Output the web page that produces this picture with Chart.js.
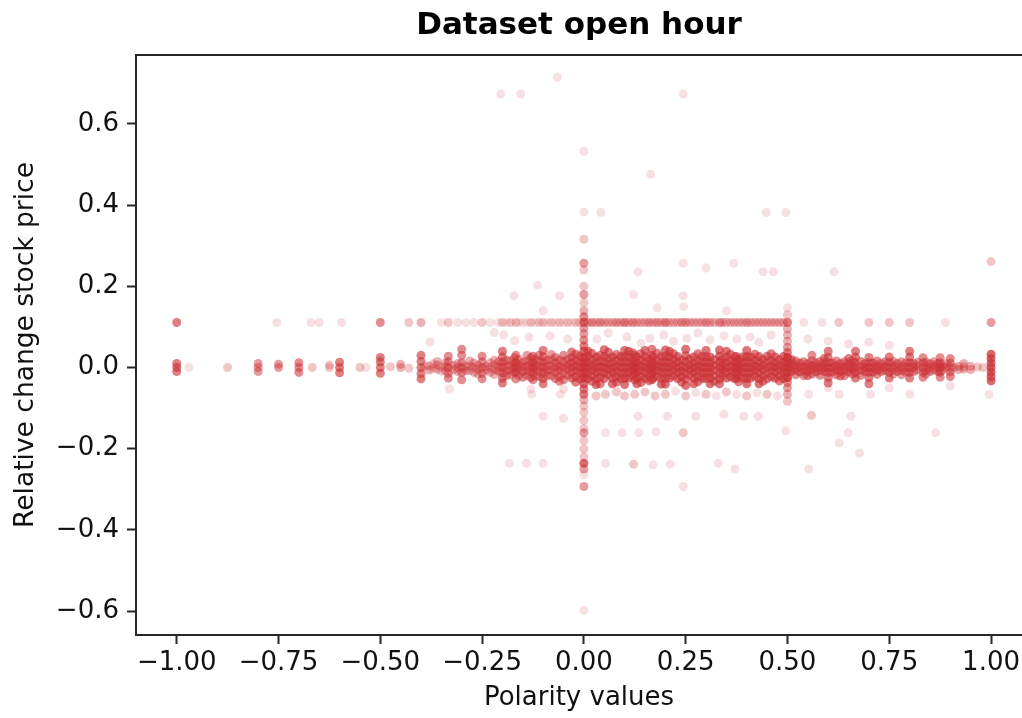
<!DOCTYPE html>
<html>
<head>
<meta charset="utf-8">
<title>Dataset open hour</title>
<script src="https://cdn.jsdelivr.net/npm/chart.js@4.4.1/dist/chart.umd.min.js"></script>
<style>
  html, body { margin: 0; padding: 0; background: #fff; overflow: hidden; width: 1022px; height: 718px; }
  canvas { display: block; }
</style>
</head>
<body>
<canvas id="chart" width="1022" height="718"></canvas>
<script>
// Axis ticks
const xTicks = [-1, -0.75, -0.5, -0.25, 0, 0.25, 0.5, 0.75, 1];
const yTicks = [-0.6, -0.4, -0.2, 0, 0.2, 0.4, 0.6];

// Band around zero change: [polarity, observations per point, ...relative changes]
const bandColumns = [
  [-1.00, 6, 0.0, 0.01, -0.01],
  [-0.97, 1, 0.0],
  [-0.875, 2, 0.0],
  [-0.80, 4, 0.0, 0.01, -0.01],
  [-0.75, 4, 0.0, 0.008],
  [-0.70, 5, 0.0, 0.012, -0.012],
  [-0.667, 2, 0.0],
  [-0.625, 2, 0.0, 0.006],
  [-0.60, 6, 0.0, 0.013, -0.013],
  [-0.55, 2, 0.0],
  [-0.535, 1, 0.0],
  [-0.50, 6, 0.0, 0.014, -0.014, 0.025],
  [-0.475, 2, 0.002],
  [-0.45, 3, 0.0, 0.008],
  [-0.43, 2, -0.002],
  [-0.40, 6, 0.0, 0.015, -0.015, 0.03, -0.028],
  [-0.39, 2, 0.003],
  [-0.38, 3, 0.004, -0.006],
  [-0.37, 2, -0.002, 0.009],
  [-0.36, 3, 0.006, -0.004, 0.015],
  [-0.35, 2, 0.001, -0.009],
  [-0.34, 3, 0.002, -0.008, 0.012],
  [-0.333, 5, 0.0, 0.014, -0.014, 0.028, -0.026],
  [-0.32, 3, 0.005, -0.005],
  [-0.31, 3, 0.0, 0.01, -0.01],
  [-0.30, 5, 0.0, 0.012, -0.012, 0.03, -0.03, 0.045],
  [-0.29, 3, 0.003, -0.008],
  [-0.28, 3, 0.004, -0.007, 0.016],
  [-0.27, 3, 0.0, 0.011, -0.012],
  [-0.26, 3, 0.006, -0.004, -0.016],
  [-0.25, 5, 0.0, 0.014, -0.014, 0.028, -0.028],
  [-0.24, 3, 0.003, -0.006],
  [-0.23, 3, 0.0, 0.012, -0.012],
  [-0.22, 3, 0.007, -0.005, 0.018, -0.017],
  [-0.21, 4, 0.002, -0.009, 0.014],
  [-0.20, 6, 0.0, 0.013, -0.013, 0.026, -0.026, 0.04, -0.038],
  [-0.19, 4, 0.004, -0.008, 0.018, -0.02],
  [-0.18, 4, 0.005, -0.006, 0.017, -0.018],
  [-0.17, 5, 0.0, 0.011, -0.012, 0.024],
  [-0.167, 5, 0.0, 0.012, -0.012, 0.03, -0.028],
  [-0.16, 4, 0.006, -0.004, 0.02, -0.02],
  [-0.15, 5, 0.001, -0.01, 0.013, -0.024],
  [-0.14, 4, 0.004, -0.008, 0.016, -0.019, 0.03],
  [-0.13, 5, 0.0, 0.011, -0.012, 0.024, -0.025],
  [-0.125, 5, 0.0, 0.013, -0.013, 0.028, -0.03],
  [-0.12, 4, 0.006, -0.005, 0.02, -0.021],
  [-0.11, 5, 0.002, -0.009, 0.015, -0.022, 0.03],
  [-0.10, 6, 0.0, 0.013, -0.013, 0.027, -0.027, 0.042, -0.04],
  [-0.09, 5, 0.004, -0.007, 0.018, -0.02],
  [-0.08, 4, 0.005, -0.007, 0.019, -0.02, 0.032],
  [-0.07, 5, 0.0, 0.012, -0.012, 0.025, -0.027],
  [-0.06, 5, 0.003, -0.006, 0.018, -0.022, -0.034],
  [-0.05, 5, 0.0, 0.014, -0.014, 0.03, -0.03],
  [-0.04, 5, 0.006, -0.004, 0.02, -0.019],
  [-0.03, 6, 0.0, 0.012, -0.012, 0.025, -0.026, 0.038],
  [-0.02, 6, 0.004, -0.008, 0.018, -0.022, 0.033, -0.036],
  [-0.01, 6, 0.0, 0.013, -0.013, 0.028, -0.028],
  [0.00, 12, 0.0, 0.012, -0.012, 0.025, -0.025],
  [0.01, 7, 0.0, 0.013, -0.013, 0.027, -0.027, 0.04],
  [0.02, 6, 0.005, -0.007, 0.02, -0.02, 0.035, -0.034],
  [0.03, 7, 0.0, 0.012, -0.012, 0.026, -0.028, -0.042],
  [0.04, 6, 0.002, -0.01, 0.015, -0.024, 0.03, -0.04],
  [0.05, 7, 0.0, 0.013, -0.013, 0.027, -0.027, 0.044],
  [0.06, 6, 0.007, -0.005, 0.022, -0.018, 0.038],
  [0.07, 7, 0.0, 0.012, -0.012, 0.026, -0.026, -0.04],
  [0.08, 6, 0.003, -0.009, 0.017, -0.023, 0.032, -0.036],
  [0.09, 7, 0.0, 0.013, -0.013, 0.027, -0.027],
  [0.10, 7, 0.0, 0.013, -0.013, 0.027, -0.027, 0.042, -0.042],
  [0.11, 7, 0.0, 0.012, -0.012, 0.026, -0.026, 0.04],
  [0.12, 6, 0.006, -0.006, 0.02, -0.02, 0.036],
  [0.125, 6, 0.0, 0.014, -0.014, 0.03, -0.03],
  [0.13, 7, 0.0, 0.012, -0.012, 0.026, -0.026, -0.04],
  [0.14, 6, 0.004, -0.008, 0.018, -0.022, 0.034, -0.037],
  [0.15, 7, 0.0, 0.013, -0.013, 0.027, -0.027, 0.042],
  [0.16, 6, 0.007, -0.004, 0.021, -0.018, -0.033],
  [0.167, 6, 0.0, 0.015, -0.015, 0.03, -0.03, 0.045],
  [0.17, 7, 0.0, 0.012, -0.012, 0.026, -0.026],
  [0.18, 6, 0.003, -0.008, 0.017, -0.022, 0.035],
  [0.19, 7, 0.0, 0.013, -0.013, 0.027, -0.027, -0.041],
  [0.20, 7, 0.0, 0.013, -0.013, 0.027, -0.027, 0.043, -0.041],
  [0.21, 7, 0.0, 0.012, -0.012, 0.026, -0.026, 0.04],
  [0.22, 6, 0.006, -0.006, 0.02, -0.021, 0.034],
  [0.23, 7, 0.0, 0.013, -0.013, 0.027, -0.027],
  [0.24, 6, 0.003, -0.009, 0.018, -0.023, -0.036],
  [0.25, 7, 0.0, 0.014, -0.014, 0.029, -0.029, 0.045, -0.044],
  [0.26, 6, 0.006, -0.005, 0.021, -0.019],
  [0.27, 7, 0.0, 0.012, -0.012, 0.026, -0.026, -0.04],
  [0.28, 6, 0.004, -0.008, 0.017, -0.022, 0.034, -0.035],
  [0.29, 7, 0.0, 0.013, -0.013, 0.027, -0.027],
  [0.30, 7, 0.0, 0.013, -0.013, 0.027, -0.027, 0.042],
  [0.31, 7, 0.0, 0.012, -0.012, 0.026, -0.026, -0.04],
  [0.32, 6, 0.005, -0.006, 0.019, -0.02, -0.034],
  [0.333, 7, 0.0, 0.014, -0.014, 0.028, -0.028, 0.043, -0.04],
  [0.34, 6, 0.006, -0.005, 0.02, -0.02],
  [0.35, 7, 0.0, 0.012, -0.012, 0.026, -0.026, 0.04],
  [0.36, 6, 0.003, -0.009, 0.017, -0.023, 0.033],
  [0.37, 7, 0.0, 0.013, -0.013, 0.027, -0.027],
  [0.375, 6, 0.0, 0.013, -0.013, 0.027, -0.027],
  [0.38, 6, 0.006, -0.005, 0.02, -0.019, -0.035],
  [0.39, 7, 0.0, 0.012, -0.012, 0.026, -0.026],
  [0.40, 7, 0.0, 0.013, -0.013, 0.027, -0.027, 0.042, -0.04],
  [0.41, 7, 0.0, 0.012, -0.012, 0.026, -0.026],
  [0.42, 6, 0.004, -0.007, 0.018, -0.021, 0.033],
  [0.43, 7, 0.0, 0.013, -0.013, 0.027, -0.027, -0.04],
  [0.44, 6, 0.006, -0.005, 0.02, -0.02, -0.034],
  [0.45, 6, 0.0, 0.014, -0.014, 0.028, -0.028],
  [0.46, 6, 0.003, -0.008, 0.017, -0.022, 0.034],
  [0.47, 7, 0.0, 0.012, -0.012, 0.026, -0.026],
  [0.48, 6, 0.005, -0.006, 0.019, -0.02, -0.033],
  [0.49, 7, 0.0, 0.013, -0.013, 0.027, -0.027],
  [0.50, 12, 0.0, 0.012, -0.012, 0.025, -0.025],
  [0.51, 6, 0.0, 0.01, -0.01, 0.02],
  [0.52, 5, 0.004, -0.006, 0.016, -0.018],
  [0.53, 6, 0.0, 0.011, -0.011],
  [0.54, 5, 0.002, -0.008, 0.014, -0.02],
  [0.55, 6, 0.0, 0.01, -0.01, -0.02],
  [0.56, 5, 0.005, -0.005, 0.017, -0.016, 0.03],
  [0.57, 6, 0.0, 0.011, -0.011],
  [0.58, 5, 0.003, -0.007, 0.015, -0.019],
  [0.59, 6, 0.0, 0.01, -0.01, 0.022],
  [0.60, 6, 0.0, 0.012, -0.012, 0.025, -0.025, 0.04, -0.038],
  [0.61, 6, 0.0, 0.011, -0.011],
  [0.62, 5, 0.004, -0.006, 0.016, -0.018],
  [0.63, 6, 0.0, 0.01, -0.01, -0.021],
  [0.64, 5, 0.002, -0.008, 0.014, -0.02],
  [0.65, 6, 0.0, 0.011, -0.011, 0.022],
  [0.66, 5, 0.005, -0.005, 0.017, -0.016],
  [0.667, 6, 0.0, 0.012, -0.012, 0.026, -0.026, 0.04],
  [0.68, 5, 0.003, -0.007, 0.015, -0.019],
  [0.69, 6, 0.0, 0.01, -0.01],
  [0.70, 6, 0.0, 0.012, -0.012, 0.025, -0.025, -0.04],
  [0.71, 6, 0.0, 0.011, -0.011],
  [0.72, 5, 0.004, -0.006, 0.016, -0.017],
  [0.73, 5, 0.0, 0.01, -0.01],
  [0.74, 5, 0.002, -0.008, 0.014],
  [0.75, 6, 0.0, 0.012, -0.012, 0.026, -0.026],
  [0.76, 4, 0.004, -0.006, 0.015, -0.016],
  [0.77, 5, 0.0, 0.01, -0.01],
  [0.78, 4, 0.003, -0.007, 0.014, -0.018],
  [0.79, 5, 0.0, 0.011, -0.011],
  [0.80, 6, 0.0, 0.012, -0.012, 0.026, -0.026, 0.04],
  [0.81, 5, 0.0, 0.01, -0.01],
  [0.82, 4, 0.004, -0.006, 0.013],
  [0.833, 5, 0.0, 0.012, -0.012, 0.024, -0.024],
  [0.84, 4, 0.003, -0.007, 0.013, -0.016],
  [0.85, 5, 0.0, 0.01, -0.01],
  [0.86, 4, 0.004, -0.006, 0.014],
  [0.87, 5, 0.0, 0.01, -0.01],
  [0.875, 5, 0.0, 0.012, -0.012, 0.024, -0.024],
  [0.88, 4, 0.003, -0.007],
  [0.89, 4, 0.0, 0.009],
  [0.90, 5, 0.0, 0.011, -0.011, 0.022, -0.022],
  [0.91, 3, 0.0],
  [0.92, 3, 0.003, -0.005],
  [0.933, 3, 0.002, -0.004, 0.01],
  [0.95, 3, 0.003, -0.005],
  [0.967, 2, 0.001],
  [0.98, 2, 0.0],
  [1.00, 8, 0.0, 0.011, -0.011, 0.022, -0.022, 0.033, -0.033]
];

// Second horizontal cluster: [polarity, observations per point]
const upperRowLevel = 0.111;
const upperRow = [
  [-1.00, 6], [-0.754, 1], [-0.67, 1], [-0.65, 1], [-0.595, 1], [-0.50, 5], [-0.43, 2], [-0.40, 3],
  [-0.35, 1], [-0.333, 2], [-0.31, 1], [-0.29, 1], [-0.27, 1], [-0.25, 2], [-0.23, 1], [-0.21, 1],
  [-0.20, 2], [-0.19, 1], [-0.18, 2], [-0.167, 2], [-0.16, 1], [-0.15, 1], [-0.14, 1], [-0.13, 2],
  [-0.12, 1], [-0.11, 2], [-0.10, 2], [-0.09, 1], [-0.08, 2], [-0.07, 1], [-0.06, 2], [-0.05, 1],
  [-0.04, 2], [-0.03, 1], [-0.02, 2], [-0.01, 2],
  [0.01, 3], [0.02, 4], [0.03, 3], [0.04, 4], [0.05, 3], [0.06, 3], [0.07, 3], [0.08, 4],
  [0.09, 3], [0.10, 5], [0.11, 3], [0.12, 4], [0.13, 3], [0.14, 3], [0.15, 3], [0.16, 4],
  [0.17, 3], [0.18, 4], [0.19, 3], [0.20, 5], [0.21, 3], [0.22, 3], [0.23, 3], [0.24, 4],
  [0.25, 4], [0.26, 3], [0.27, 3], [0.28, 3], [0.29, 3], [0.30, 4], [0.31, 3], [0.32, 3],
  [0.333, 4], [0.34, 3], [0.35, 3], [0.36, 3], [0.37, 3], [0.38, 3], [0.39, 3], [0.40, 4],
  [0.41, 3], [0.42, 3], [0.43, 3], [0.44, 3], [0.45, 3], [0.46, 3], [0.47, 3], [0.48, 3], [0.49, 3],
  [0.54, 1], [0.585, 1], [0.626, 2], [0.70, 2], [0.75, 2], [0.80, 2], [0.888, 1], [1.00, 4]
];

// Neutral and 0.5 polarity columns: [polarity, [[relative change, observations], ...]]
const spikeColumns = [
  [0.0, [
    [0.533, 1], [0.383, 1], [0.316, 2], [0.257, 4], [0.24, 2], [0.2, 2], [0.18, 4], [0.16, 2],
    [0.14, 3], [0.125, 5], [0.111, 8], [0.097, 4], [0.083, 4], [0.068, 5], [0.053, 6], [0.04, 8],
    [-0.04, 8], [-0.053, 6], [-0.066, 6], [-0.08, 3], [-0.095, 2], [-0.11, 2], [-0.13, 2], [-0.15, 2],
    [-0.161, 4], [-0.18, 2], [-0.2, 2], [-0.22, 2], [-0.236, 8], [-0.25, 4], [-0.265, 1], [-0.293, 4],
    [-0.598, 1]
  ]],
  [0.5, [
    [0.147, 1], [0.13, 2], [0.111, 6], [0.095, 3], [0.08, 3], [0.065, 3], [0.05, 4], [0.037, 6],
    [-0.037, 5], [-0.05, 4], [-0.066, 3], [-0.083, 2]
  ]]
];

// Scattered observations: [polarity, relative change, observations]
const sparsePoints = [
  [-0.065, 0.715, 1], [-0.204, 0.674, 1], [-0.155, 0.674, 1], [0.244, 0.674, 1],
  [0.164, 0.476, 1], [0.042, 0.382, 1], [0.448, 0.382, 1], [0.496, 0.382, 1],
  [0.133, 0.236, 1], [0.244, 0.257, 1], [0.30, 0.245, 1], [0.368, 0.257, 1], [0.44, 0.236, 1],
  [0.465, 0.236, 1], [0.614, 0.236, 1], [1.0, 0.261, 2],
  [-0.172, 0.177, 1], [-0.114, 0.203, 1], [-0.06, 0.177, 1], [0.122, 0.18, 1], [0.244, 0.177, 1],
  [0.18, 0.147, 1], [0.245, 0.15, 1], [-0.1, 0.14, 1], [0.35, 0.14, 1],
  [-0.378, 0.063, 1], [-0.22, 0.086, 1], [-0.197, 0.08, 1], [-0.17, 0.066, 1], [-0.135, 0.075, 1],
  [-0.083, 0.078, 1], [-0.04, 0.07, 1], [0.032, 0.07, 1], [0.06, 0.085, 1], [0.106, 0.075, 1],
  [0.14, 0.06, 1], [0.162, 0.072, 1], [0.196, 0.08, 1], [0.22, 0.065, 1], [0.253, 0.072, 1],
  [0.28, 0.085, 1], [0.31, 0.068, 1], [0.344, 0.078, 1], [0.376, 0.07, 1], [0.408, 0.075, 1],
  [0.43, 0.062, 1], [0.46, 0.08, 1], [0.55, 0.07, 1], [0.6, 0.065, 1], [0.65, 0.058, 1],
  [0.7, 0.062, 1], [0.75, 0.055, 1],
  [-0.33, -0.053, 1], [-0.128, -0.066, 1], [-0.13, -0.053, 1], [-0.058, -0.066, 1], [-0.05, -0.053, 1],
  [0.03, -0.07, 2], [0.053, -0.066, 2], [0.08, -0.06, 2], [0.1, -0.07, 2], [0.125, -0.066, 2],
  [0.15, -0.06, 2], [0.175, -0.07, 2], [0.2, -0.066, 2], [0.225, -0.058, 1], [0.25, -0.07, 2],
  [0.275, -0.062, 1], [0.3, -0.066, 2], [0.325, -0.07, 1], [0.35, -0.06, 2], [0.375, -0.066, 1],
  [0.4, -0.07, 2], [0.425, -0.062, 1], [0.45, -0.066, 2], [0.475, -0.07, 1], [0.552, -0.066, 1],
  [0.627, -0.066, 1], [0.704, -0.066, 1], [0.80, -0.066, 1], [0.995, -0.066, 1], [0.6, -0.05, 1],
  [0.75, -0.05, 1], [0.9, -0.045, 1],
  [-0.10, -0.12, 1], [-0.05, -0.125, 1], [0.133, -0.12, 1], [0.205, -0.12, 1], [0.275, -0.12, 1],
  [0.344, -0.115, 1], [0.393, -0.12, 1], [0.428, -0.12, 1], [0.559, -0.118, 2], [0.656, -0.12, 1],
  [0.053, -0.161, 1], [0.094, -0.161, 1], [0.135, -0.161, 1], [0.177, -0.158, 1], [0.244, -0.161, 2],
  [0.496, -0.156, 1], [0.649, -0.161, 1], [0.864, -0.161, 1], [0.627, -0.186, 1], [0.677, -0.211, 1],
  [-0.183, -0.236, 1], [-0.141, -0.236, 1], [-0.10, -0.236, 1], [0.053, -0.236, 1], [0.122, -0.238, 2],
  [0.17, -0.24, 1], [0.212, -0.238, 1], [0.33, -0.236, 1], [0.371, -0.25, 1], [0.552, -0.25, 1],
  [0.244, -0.293, 1]
];

// Flatten everything into scatter points
const points = [];
bandColumns.forEach(([x, n, ...ys]) => ys.forEach(y => points.push({ x, y, n })));
upperRow.forEach(([x, n]) => points.push({ x, y: upperRowLevel, n }));
spikeColumns.forEach(([x, cells]) => cells.forEach(([y, n]) => points.push({ x, y, n })));
sparsePoints.forEach(([x, y, n]) => points.push({ x, y, n }));

// Stacked translucent markers: opacity grows with the number of observations
const markerAlpha = 0.15;
const markerColor = ctx => {
  const n = (ctx.raw && ctx.raw.n) || 1;
  const a = 1 - Math.pow(1 - markerAlpha, n);
  return `rgba(204, 50, 55, ${a.toFixed(3)})`;
};

const fmt = (v, d) => (v < 0 ? '\u2212' : '') + Math.abs(v).toFixed(d);
const FONT = 'DejaVu Sans';
const AXIS = '#262626';

// Top spine of the plot box (the right one lies past the visible edge)
const frame = {
  id: 'frame',
  afterDraw(chart) {
    const { ctx, chartArea: a } = chart;
    ctx.save();
    ctx.strokeStyle = AXIS;
    ctx.lineWidth = 2;
    ctx.beginPath();
    ctx.moveTo(a.left - 1, a.top);
    ctx.lineTo(a.right, a.top);
    ctx.stroke();
    ctx.restore();
  }
};

new Chart(document.getElementById('chart'), {
  type: 'scatter',
  data: {
    datasets: [{
      data: points,
      pointRadius: 4.5,
      pointBorderWidth: 0,
      pointBackgroundColor: markerColor,
      pointHoverRadius: 4.5
    }]
  },
  options: {
    responsive: false,
    devicePixelRatio: 1,
    animation: false,
    events: [],
    layout: { autoPadding: false, padding: { left: 0, right: 0, top: 0, bottom: 0 } },
    plugins: {
      legend: { display: false },
      tooltip: { enabled: false },
      title: {
        display: true,
        text: 'Dataset open hour',
        fullSize: false,
        color: '#000',
        font: { family: FONT, size: 31, weight: 'bold', lineHeight: 1.2 },
        padding: { top: 7.4, bottom: 10.4 }
      }
    },
    scales: {
      x: {
        type: 'linear',
        min: -1.1,
        max: 1.076,
        afterBuildTicks: s => { s.ticks = xTicks.map(v => ({ value: v })); },
        afterFit: s => { s.height = 83; s.paddingLeft = 0; s.paddingRight = 0; },
        ticks: {
          autoSkip: false,
          maxRotation: 0,
          padding: 4,
          color: '#111',
          font: { family: FONT, size: 26 },
          callback: v => fmt(v, 2)
        },
        grid: { drawOnChartArea: false, tickLength: 9, tickWidth: 2, tickColor: AXIS },
        border: { display: true, color: AXIS, width: 2 },
        title: {
          display: true,
          text: 'Polarity values',
          color: '#111',
          font: { family: FONT, size: 26 },
          padding: { top: 0, bottom: 4 }
        }
      },
      y: {
        type: 'linear',
        min: -0.659,
        max: 0.770,
        afterBuildTicks: s => { s.ticks = yTicks.map(v => ({ value: v })); },
        afterFit: s => { s.width = 136; s.paddingTop = 0; s.paddingBottom = 0; },
        ticks: {
          autoSkip: false,
          padding: 8,
          color: '#111',
          font: { family: FONT, size: 26 },
          callback: v => fmt(v, 1)
        },
        grid: { drawOnChartArea: false, tickLength: 9, tickWidth: 2, tickColor: AXIS },
        border: { display: true, color: AXIS, width: 2 },
        title: {
          display: true,
          text: 'Relative change stock price',
          color: '#111',
          font: { family: FONT, size: 26.5 },
          padding: { top: 10, bottom: 0 }
        }
      }
    }
  },
  plugins: [frame]
});
</script>
</body>
</html>
